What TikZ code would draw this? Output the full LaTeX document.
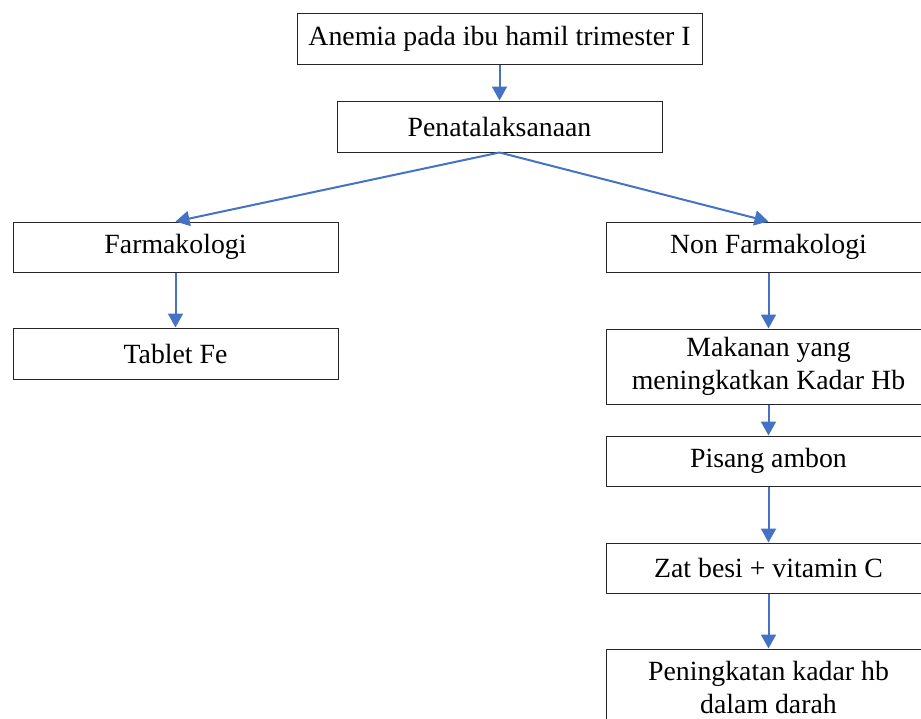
\documentclass[tikz,border=0pt]{standalone}
\usepackage{fontspec}
\setmainfont{Liberation Serif}
\usetikzlibrary{arrows.meta}
\definecolor{arrowblue}{HTML}{4472C4}
\begin{document}
\begin{tikzpicture}[x=1pt,y=-1pt,
  box/.style={draw=black!85, line width=1pt, rectangle, inner sep=0pt, align=center,
    font=\fontsize{27.8}{33}\selectfont},
  conn/.style={draw=arrowblue, line width=2pt, -{Triangle[length=14pt,width=15pt]}}]
\useasboundingbox (0,0) rectangle (921,718);
\clip (0,0) rectangle (921,718);
\node[box, minimum width=405pt, minimum height=51pt] (a) at (499.5,38.5) {Anemia pada ibu hamil trimester I};
\node[box, minimum width=325pt, minimum height=51pt] (p) at (499.5,126.5) {Penatalaksanaan};
\node[box, minimum width=325pt, minimum height=50pt] (f) at (175.5,247) {Farmakologi};
\node[box, minimum width=325pt, minimum height=50pt] (n) at (768.5,247) {Non Farmakologi};
\node[box, minimum width=325pt, minimum height=51pt] (t) at (175.5,353.5) {Tablet Fe};
\node[box, minimum width=325pt, minimum height=75pt] (m) at (768.5,366.5) {Makanan yang\\meningkatkan Kadar Hb};
\node[box, minimum width=325pt, minimum height=50pt] (s) at (768.5,461) {Pisang ambon};
\node[box, minimum width=325pt, minimum height=50pt] (z) at (768.5,568) {Zat besi + vitamin C};
\node[box, minimum width=325pt, minimum height=76pt] (k) at (768.5,687) {Peningkatan kadar hb\\dalam darah};
\draw[conn] (a.south) -- (p.north);
\draw[conn] (p.south) -- (f.north);
\draw[conn] (p.south) -- (n.north);
\draw[conn] (f.south) -- (t.north);
\draw[conn] (n.south) -- (m.north);
\draw[conn] (m.south) -- (s.north);
\draw[conn] (s.south) -- (z.north);
\draw[conn] (z.south) -- (k.north);
\end{tikzpicture}
\end{document}
